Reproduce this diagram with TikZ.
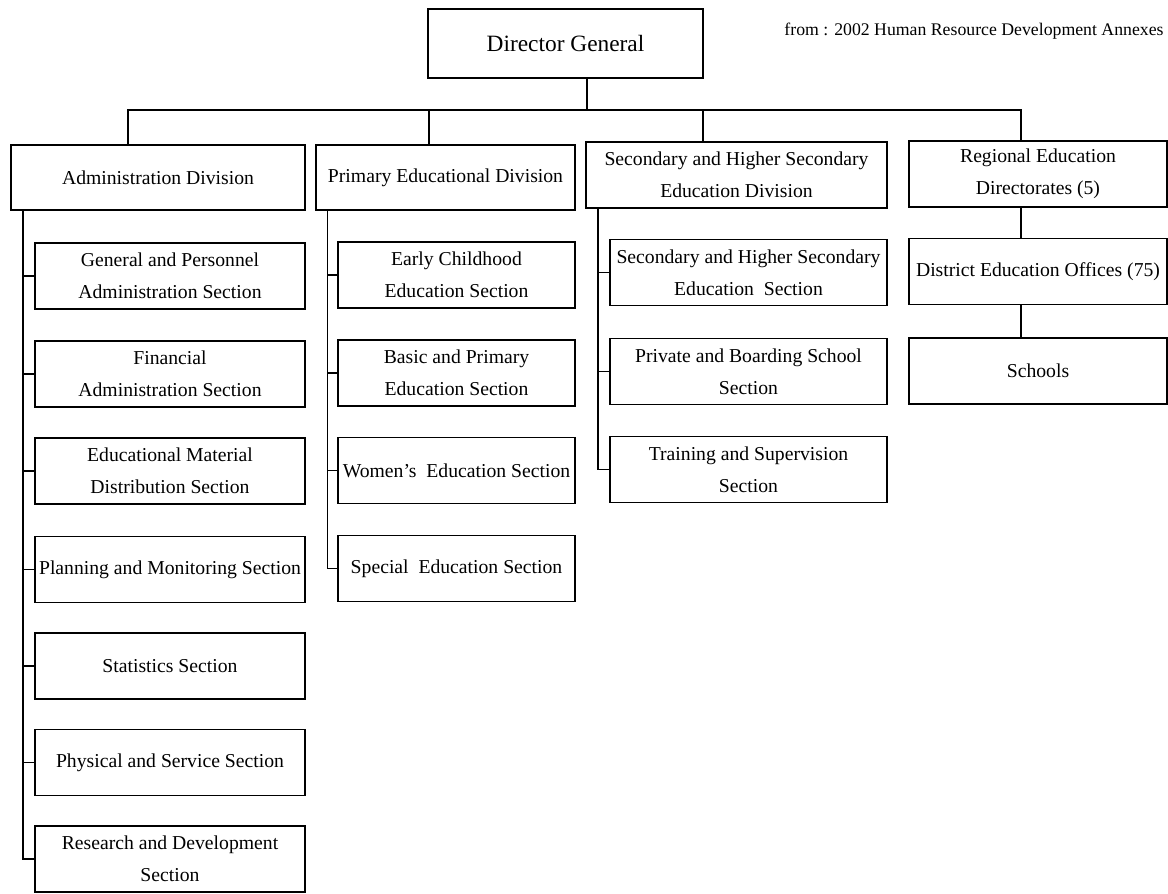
\documentclass[tikz,border=0pt]{standalone}
\usepackage{fontspec}
\setmainfont{Liberation Serif}
\begin{document}
\begin{tikzpicture}[
    every node/.style={font=\fontsize{11.2}{18.2}\selectfont},
    orgbox/.style={draw, line width=1.1pt, inner sep=0pt, align=center, minimum height=1.32cm},
    link/.style={line width=1.1pt}]
        \useasboundingbox (0,0) rectangle (23.36,17.86);
        % Head
        \node[orgbox, minimum width=5.5cm, minimum height=1.38cm, font=\fontsize{13.3}{16}\selectfont] (dg) at (11.31,16.99) {Director General};
        \node[font=\fontsize{10.1}{12}\selectfont] (src) at (19.48,17.24) {from : 2002 Human Resource Development Annexes};
        % Divisions
        \node[orgbox, minimum width=5.88cm, minimum height=1.30cm] (adm) at (3.16,14.31) {Administration Division};
        \node[orgbox, minimum width=5.18cm, minimum height=1.30cm] (pri) at (8.91,14.31) {Primary Educational Division};
        \node[orgbox, minimum width=6.02cm] (sec) at (14.73,14.36) {Secondary and Higher Secondary\\Education Division};
        \node[orgbox, minimum width=5.16cm] (reg) at (20.76,14.38) {Regional Education\\Directorates (5)};
        % Bus from the head to the divisions
        \coordinate (busA) at (2.56,15.66);
        \coordinate (busP) at (8.58,15.66);
        \coordinate (busD) at (11.74,15.66);
        \coordinate (busS) at (14.06,15.66);
        \coordinate (busR) at (20.42,15.66);
        \draw[link] (busA |- adm.north) -- (busA) -- (busR) -- (busR |- reg.north);
        \draw[link] (busD |- dg.south) -- (busD);
        \draw[link] (busP) -- (busP |- pri.north);
        \draw[link] (busS) -- (busS |- sec.north);
        % Administration sections
        \node[orgbox, minimum width=5.40cm] (a1) at (3.40,12.34) {General and Personnel\\Administration Section};
        \node[orgbox, minimum width=5.40cm] (a2) at (3.40,10.38) {Financial\\Administration Section};
        \node[orgbox, minimum width=5.40cm] (a3) at (3.40,8.44) {Educational Material\\Distribution Section};
        \node[orgbox, minimum width=5.40cm] (a4) at (3.40,6.47) {Planning and Monitoring Section};
        \node[orgbox, minimum width=5.40cm] (a5) at (3.40,4.54) {Statistics Section};
        \node[orgbox, minimum width=5.40cm] (a6) at (3.40,2.61) {Physical and Service Section};
        \node[orgbox, minimum width=5.40cm] (a7) at (3.40,0.68) {Research and Development\\Section};
        \coordinate (spA) at (0.46,0);
        \draw[link] (spA |- adm.south) |- (a7.west);
        \draw[link] (spA |- a1.west) -- (a1.west);
        \draw[link] (spA |- a2.west) -- (a2.west);
        \draw[link] (spA |- a3.west) -- (a3.west);
        \draw[link] (spA |- a4.west) -- (a4.west);
        \draw[link] (spA |- a5.west) -- (a5.west);
        \draw[link] (spA |- a6.west) -- (a6.west);
        % Primary sections
        \node[orgbox, minimum width=4.74cm] (p1) at (9.13,12.36) {Early Childhood\\Education Section};
        \node[orgbox, minimum width=4.74cm] (p2) at (9.13,10.40) {Basic and Primary\\Education Section};
        \node[orgbox, minimum width=4.74cm] (p3) at (9.13,8.45) {Women's~ Education Section};
        \node[orgbox, minimum width=4.74cm] (p4) at (9.13,6.49) {Special~ Education Section};
        \coordinate (spP) at (6.55,0);
        \draw[link] (spP |- pri.south) |- (p4.west);
        \draw[link] (spP |- p1.west) -- (p1.west);
        \draw[link] (spP |- p2.west) -- (p2.west);
        \draw[link] (spP |- p3.west) -- (p3.west);
        % Secondary sections
        \node[orgbox, minimum width=5.54cm] (s1) at (14.97,12.41) {Secondary and Higher Secondary\\Education~ Section};
        \node[orgbox, minimum width=5.54cm] (s2) at (14.97,10.43) {Private and Boarding School\\Section};
        \node[orgbox, minimum width=5.54cm] (s3) at (14.97,8.47) {Training and Supervision\\Section};
        \coordinate (spS) at (11.96,0);
        \draw[link] (spS |- sec.south) |- (s3.west);
        \draw[link] (spS |- s1.west) -- (s1.west);
        \draw[link] (spS |- s2.west) -- (s2.west);
        % Regional chain
        \node[orgbox, minimum width=5.16cm] (dist) at (20.76,12.43) {District Education Offices (75)};
        \node[orgbox, minimum width=5.16cm] (sch) at (20.76,10.44) {Schools};
        \draw[link] (busR |- reg.south) -- (busR |- dist.north);
        \draw[link] (busR |- dist.south) -- (busR |- sch.north);
    \end{tikzpicture}
\end{document}
